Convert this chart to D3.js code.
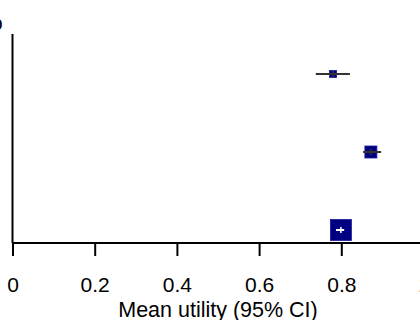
<!DOCTYPE html>
<meta charset="utf-8"/>
<style>
    html, body { margin: 0; padding: 0; background: #fff; }
    text { font-family: "Liberation Sans", Arial, sans-serif; fill: #000; }
    .axis path, .axis line { stroke: #000; stroke-width: 2px; }
</style>
<body>
<svg width="420" height="320"></svg>
</body>
<script src="https://d3js.org/d3.v7.min.js"></script>
<script>

  // rows, top to bottom
  var studies = ["Study 1", "Study 2", "Pooled"]
  var means = [0.780, 0.872, 0.799]
  var lower = [0.738, 0.853, 0.787]
  var upper = [0.821, 0.897, 0.807]
  var weights = [50, 147, 450]
  var xTicks = [0, 0.2, 0.4, 0.6, 0.8, 1]

  var svg = d3.select("svg"),
    width = +svg.attr("width"),
    height = +svg.attr("height")

  var axisY = 243

  var x = d3.scaleLinear().domain([0, 1]).range([12.5, 423.5])
  var y = d3.scalePoint().domain(studies).range([74, 230])
  var size = d3.scaleSqrt().domain([0, 450]).range([0, 21])

  // cut-off label in the top left corner
  svg.append("text")
    .attr("x", 2.5)
    .attr("y", 30)
    .attr("text-anchor", "end")
    .style("font-size", "20px")
    .text("o")

  // y axis line
  svg.append("line")
    .attr("x1", x(0)).attr("x2", x(0))
    .attr("y1", 34).attr("y2", axisY)
    .attr("stroke", "#000")
    .attr("stroke-width", 2)

  var xAxis = svg.append("g")
    .attr("class", "axis")
    .attr("transform", "translate(0," + axisY + ")")
    .call(d3.axisBottom(x).tickValues(xTicks).tickSize(13).tickPadding(21)
      .tickFormat(function (d) { return d3.format("")(d) }))

  xAxis.select(".domain").attr("d", "M" + x(0) + ",0H" + width)
  xAxis.selectAll("text").style("font-size", "21px")

  svg.append("text")
    .attr("x", 218)
    .attr("y", 317)
    .attr("text-anchor", "middle")
    .style("font-size", "21.5px")
    .text("Mean utility (95% CI)")

  var rows = svg.append("g")
    .selectAll("g")
    .data(studies)
    .enter().append("g")
    .attr("transform", function (d) { return "translate(0," + y(d) + ")" })

  rows.append("rect")
    .attr("x", function (d, i) { return x(means[i]) - size(weights[i]) / 2 })
    .attr("y", function (d, i) { return -size(weights[i]) / 2 })
    .attr("width", function (d, i) { return size(weights[i]) })
    .attr("height", function (d, i) { return size(weights[i]) })
    .attr("fill", "#000080")
    .attr("stroke", "#1a1a9a")
    .attr("stroke-width", 0.8)

  // CI lines drawn over the squares; white when fully inside the square
  function ciColor (i) {
    var s = size(weights[i]) / 2
    return (x(upper[i]) - x(lower[i])) / 2 < s ? "#fff" : "#333"
  }

  rows.append("line")
    .attr("x1", function (d, i) { return x(lower[i]) })
    .attr("x2", function (d, i) { return x(upper[i]) })
    .attr("y1", 0).attr("y2", 0)
    .attr("stroke", function (d, i) { return ciColor(i) })
    .attr("stroke-width", 2)

  rows.append("line")
    .attr("x1", function (d, i) { return x(means[i]) })
    .attr("x2", function (d, i) { return x(means[i]) })
    .attr("y1", -3).attr("y2", 3)
    .attr("stroke", function (d, i) { return ciColor(i) })
    .attr("stroke-width", 1.5)

</script>
